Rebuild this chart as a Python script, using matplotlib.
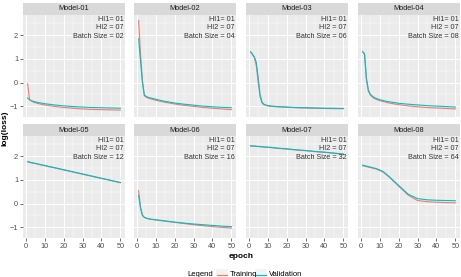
import matplotlib.pyplot as plt
from matplotlib.lines import Line2D
from matplotlib.patches import Rectangle
from matplotlib.ticker import MultipleLocator

plt.rcParams['font.family'] = ['Liberation Sans', 'DejaVu Sans']

epochs = [1, 2, 3, 4, 5, 6, 7, 8, 10, 12, 15, 20, 25, 30, 35, 40, 45, 50]

modelos = ["Model-01", "Model-02", "Model-03", "Model-04",
           "Model-05", "Model-06", "Model-07", "Model-08"]
batch = ["02", "04", "06", "08", "12", "16", "32", "64"]

treino = [
    [-0.05, -0.72, -0.78, -0.82, -0.85, -0.87, -0.89, -0.91, -0.94, -0.97, -1.0, -1.05, -1.08, -1.11, -1.13, -1.14, -1.15, -1.16],
    [2.62, 1.2, 0.1, -0.55, -0.62, -0.65, -0.68, -0.7, -0.74, -0.78, -0.83, -0.9, -0.96, -1.0, -1.05, -1.08, -1.11, -1.14],
    [1.28, 1.18, 1.05, 0.7, 0.0, -0.6, -0.85, -0.93, -0.98, -1.0, -1.02, -1.04, -1.06, -1.07, -1.08, -1.09, -1.1, -1.1],
    [1.3, 1.2, 0.1, -0.35, -0.52, -0.6, -0.66, -0.7, -0.76, -0.8, -0.86, -0.93, -0.98, -1.02, -1.05, -1.07, -1.09, -1.11],
    [1.76, 1.74, 1.72, 1.70, 1.69, 1.67, 1.65, 1.63, 1.60, 1.56, 1.51, 1.42, 1.33, 1.24, 1.15, 1.06, 0.97, 0.88],
    [0.55, -0.15, -0.48, -0.58, -0.62, -0.64, -0.66, -0.67, -0.69, -0.71, -0.74, -0.79, -0.84, -0.89, -0.93, -0.97, -1.0, -1.03],
    [2.43, 2.42, 2.42, 2.41, 2.40, 2.40, 2.39, 2.38, 2.37, 2.36, 2.33, 2.30, 2.26, 2.23, 2.19, 2.16, 2.12, 2.08],
    [1.6, 1.58, 1.56, 1.54, 1.52, 1.50, 1.48, 1.46, 1.40, 1.32, 1.12, 0.74, 0.36, 0.13, 0.08, 0.06, 0.04, 0.03],
]

validacao = [
    [-0.65, -0.72, -0.76, -0.79, -0.81, -0.83, -0.85, -0.86, -0.89, -0.91, -0.94, -0.98, -1.01, -1.03, -1.05, -1.06, -1.07, -1.08],
    [1.85, 0.9, 0.0, -0.52, -0.58, -0.62, -0.64, -0.66, -0.7, -0.74, -0.79, -0.86, -0.91, -0.95, -0.99, -1.02, -1.04, -1.06],
    [1.3, 1.2, 1.08, 0.85, 0.2, -0.5, -0.82, -0.91, -0.97, -0.99, -1.01, -1.03, -1.05, -1.06, -1.07, -1.08, -1.08, -1.09],
    [1.3, 1.22, 0.2, -0.3, -0.48, -0.56, -0.62, -0.66, -0.72, -0.76, -0.81, -0.87, -0.91, -0.94, -0.97, -0.99, -1.01, -1.03],
    [1.77, 1.75, 1.73, 1.71, 1.70, 1.68, 1.66, 1.64, 1.61, 1.57, 1.52, 1.43, 1.34, 1.25, 1.16, 1.07, 0.98, 0.89],
    [0.35, -0.2, -0.5, -0.58, -0.61, -0.63, -0.65, -0.66, -0.68, -0.7, -0.73, -0.78, -0.82, -0.86, -0.89, -0.92, -0.95, -0.97],
    [2.44, 2.43, 2.43, 2.42, 2.41, 2.41, 2.40, 2.39, 2.38, 2.37, 2.34, 2.31, 2.27, 2.24, 2.20, 2.17, 2.13, 2.09],
    [1.62, 1.60, 1.58, 1.56, 1.54, 1.52, 1.50, 1.48, 1.42, 1.34, 1.14, 0.77, 0.40, 0.21, 0.16, 0.14, 0.13, 0.12],
]

W, H = 461, 277
fig = plt.figure(figsize=(W / 100, H / 100), dpi=100)
fig.patch.set_facecolor("white")

cor_treino = "#F8766D"
cor_valid = "#00BFC4"
cinza = "#4D4D4D"

col_x = [23, 134, 246, 358]
larg = 102
linhas = [(3, 15, 117), (124, 136, 238)]  # topo strip, topo painel, base painel

for i, nome in enumerate(modelos):
    lin, col = divmod(i, 4)
    ts, tp, bp = linhas[lin]
    x0 = col_x[col]
    ax = fig.add_axes([x0 / W, 1 - bp / H, larg / W, (bp - tp) / H])
    ax.set_facecolor("#EBEBEB")
    ax.plot(epochs, treino[i], color=cor_treino, lw=0.8)
    ax.plot(epochs, validacao[i], color=cor_valid, lw=0.8)
    ax.set_xlim(-1.45, 52.45)
    ax.set_ylim(-1.45, 2.85)
    ax.xaxis.set_major_locator(MultipleLocator(10))
    ax.xaxis.set_minor_locator(MultipleLocator(5))
    ax.yaxis.set_major_locator(MultipleLocator(1))
    ax.yaxis.set_minor_locator(MultipleLocator(0.5))
    ax.grid(which="major", color="white", lw=0.7)
    ax.grid(which="minor", color="white", lw=0.35)
    ax.set_axisbelow(True)
    for s in ax.spines.values():
        s.set_visible(False)
    ax.tick_params(which="minor", length=0)
    ax.tick_params(which="major", length=2, width=0.5, color="#333333",
                   labelsize=5.3, labelcolor=cinza, pad=1.5)
    if lin == 0:
        ax.tick_params(axis="x", which="both", bottom=False, labelbottom=False)
    if col != 0:
        ax.tick_params(axis="y", which="both", left=False, labelleft=False)

    txt = "HI1= 01\nHI2 = 07\nBatch Size = " + batch[i]
    ax.text(0.99, 0.99, txt, transform=ax.transAxes, ha="right", va="top",
            fontsize=5.2, color="#333333", linespacing=1.25)

    # faixa do titulo
    sx = fig.add_axes([x0 / W, 1 - tp / H, larg / W, (tp - ts) / H])
    sx.set_facecolor("#D9D9D9")
    sx.set_xticks([])
    sx.set_yticks([])
    for s in sx.spines.values():
        s.set_visible(False)
    sx.text(0.5, 0.5, nome, ha="center", va="center", fontsize=5.3,
            color="#1A1A1A", transform=sx.transAxes)

fig.text(5 / W, 1 - 128 / H, "log(loss)", rotation=90, ha="center", va="center",
         fontsize=6, fontweight="bold")
fig.text(241 / W, 1 - 256 / H, "epoch", ha="center", va="center",
         fontsize=6, fontweight="bold")

# legenda feita a mao, em pixels da figura
yl = 1 - 275 / H
fig.text(187 / W, yl, "Legend", ha="left", va="center", fontsize=5.5)
for (kx, tx, cor, rot) in [(216, 230, cor_treino, "Training"),
                           (255, 269, cor_valid, "Validation")]:
    fig.add_artist(Rectangle((kx / W, 1 - 281 / H), 12 / W, 12 / H,
                             transform=fig.transFigure, facecolor="#F2F2F2",
                             edgecolor="none"))
    fig.add_artist(Line2D([(kx + 1) / W, (kx + 11) / W], [yl, yl],
                          transform=fig.transFigure, color=cor, lw=0.8))
    fig.text(tx / W, yl, rot, ha="left", va="center", fontsize=5.5)

fig.savefig("out.png", dpi=100)
